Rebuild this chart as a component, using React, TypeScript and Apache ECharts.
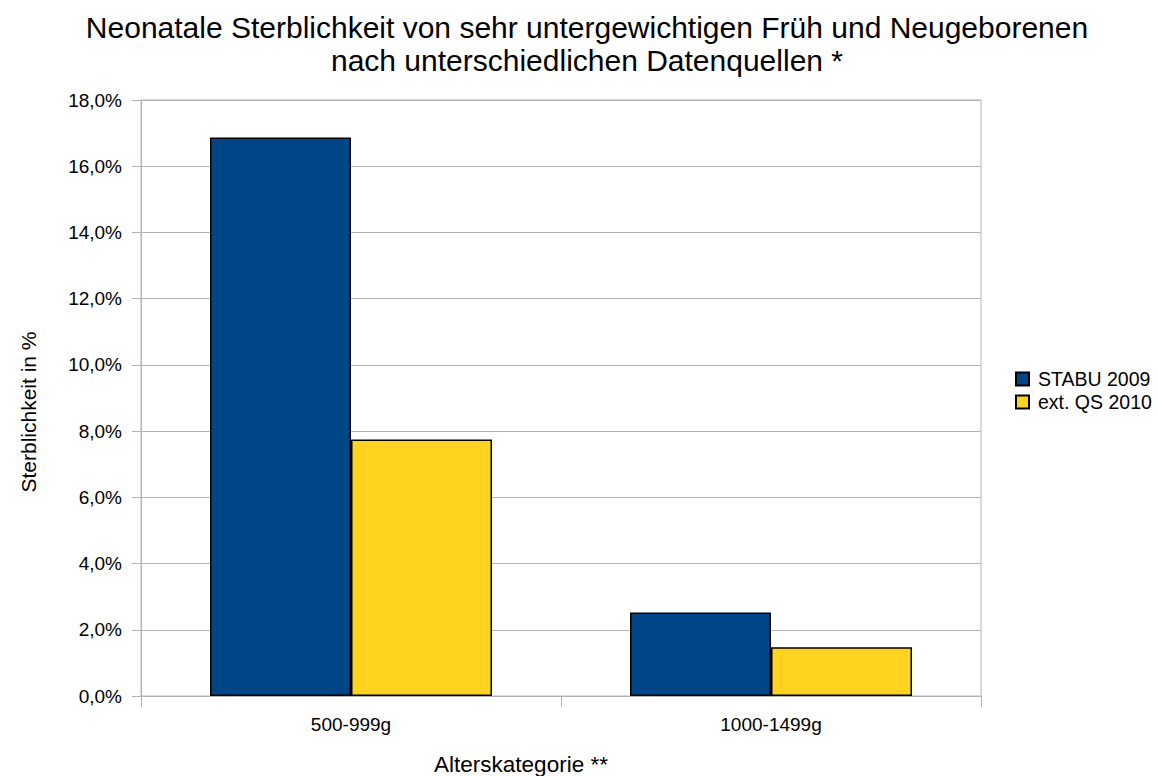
import React, { useEffect, useRef } from "react";
import * as echarts from "echarts";

const categories = ["500-999g", "1000-1499g"];
const stabu2009 = [16.87, 2.52];
const extQs2010 = [7.75, 1.47];
const seriesNames = ["STABU 2009", "ext. QS 2010"];
const titleLines = [
  "Neonatale Sterblichkeit von sehr untergewichtigen Früh und Neugeborenen",
  "nach unterschiedlichen Datenquellen *",
];
const xAxisName = "Alterskategorie **";
const yAxisName = "Sterblichkeit in %";

const FONT = "'Liberation Sans', Arial, sans-serif";

export default function App() {
  const ref = useRef<HTMLDivElement>(null);
  useEffect(() => {
    if (!ref.current) return;
    const chart = echarts.init(ref.current, undefined, { renderer: "svg" });
    chart.setOption({
      animation: false,
      backgroundColor: "#ffffff",
      textStyle: { fontFamily: FONT },
      title: {
        text: titleLines.join("\n"),
        left: 582,
        top: 6,
        textAlign: "center",
        textStyle: {
          fontFamily: FONT,
          fontSize: 30,
          fontWeight: "normal",
          color: "#000",
          lineHeight: 33,
        },
      },
      legend: {
        orient: "vertical",
        left: 1010,
        top: 364,
        padding: 5,
        itemWidth: 13,
        itemHeight: 13,
        itemGap: 3,
        icon: "rect",
        data: seriesNames,
        textStyle: { fontFamily: FONT, fontSize: 19.5, color: "#000", padding: [0, 0, 0, 4] },
      },
      grid: {
        left: 141,
        right: 177,
        top: 100,
        bottom: 80,
        show: true,
        borderColor: "#b3b3b3",
        borderWidth: 1,
      },
      xAxis: {
        type: "category",
        data: categories,
        axisLine: { lineStyle: { color: "#b3b3b3", width: 1 } },
        axisTick: { show: true, length: 11, lineStyle: { color: "#b3b3b3" } },
        axisLabel: { fontFamily: FONT, fontSize: 19, color: "#000", margin: 19 },
        splitLine: { show: false },
      },
      yAxis: {
        type: "value",
        min: 0,
        max: 18,
        interval: 2,
        axisLine: { show: true, lineStyle: { color: "#b3b3b3", width: 1 } },
        axisTick: { show: true, length: 9, lineStyle: { color: "#b3b3b3" } },
        axisLabel: {
          fontFamily: FONT,
          fontSize: 19,
          color: "#000",
          margin: 19,
          formatter: (v: number) => v.toFixed(1).replace(".", ",") + "%",
        },
        splitLine: { show: true, lineStyle: { color: "#b3b3b3", width: 1 } },
      },
      graphic: [
        {
          type: "text",
          x: 521,
          y: 764,
          style: {
            text: xAxisName,
            fontFamily: FONT,
            fontSize: 22.5,
            fill: "#000",
            align: "center",
            verticalAlign: "middle",
          },
        },
        {
          type: "text",
          x: 28,
          y: 412,
          rotation: Math.PI / 2,
          style: {
            text: yAxisName,
            fontFamily: FONT,
            fontSize: 21,
            fill: "#000",
            align: "center",
            verticalAlign: "middle",
          },
        },
      ],
      series: [
        {
          name: seriesNames[0],
          type: "bar",
          data: stabu2009,
          barWidth: 141,
          barGap: "0%",
          itemStyle: { color: "#004586", borderColor: "#000", borderWidth: 1.5 },
        },
        {
          name: seriesNames[1],
          type: "bar",
          data: extQs2010,
          barWidth: 141,
          barGap: "0%",
          itemStyle: { color: "#ffd320", borderColor: "#000", borderWidth: 1.5 },
        },
      ],
    });
    return () => chart.dispose();
  }, []);
  return <div ref={ref} style={{ width: 1158, height: 776, position: "absolute", left: 0, top: 0 }} />;
}
